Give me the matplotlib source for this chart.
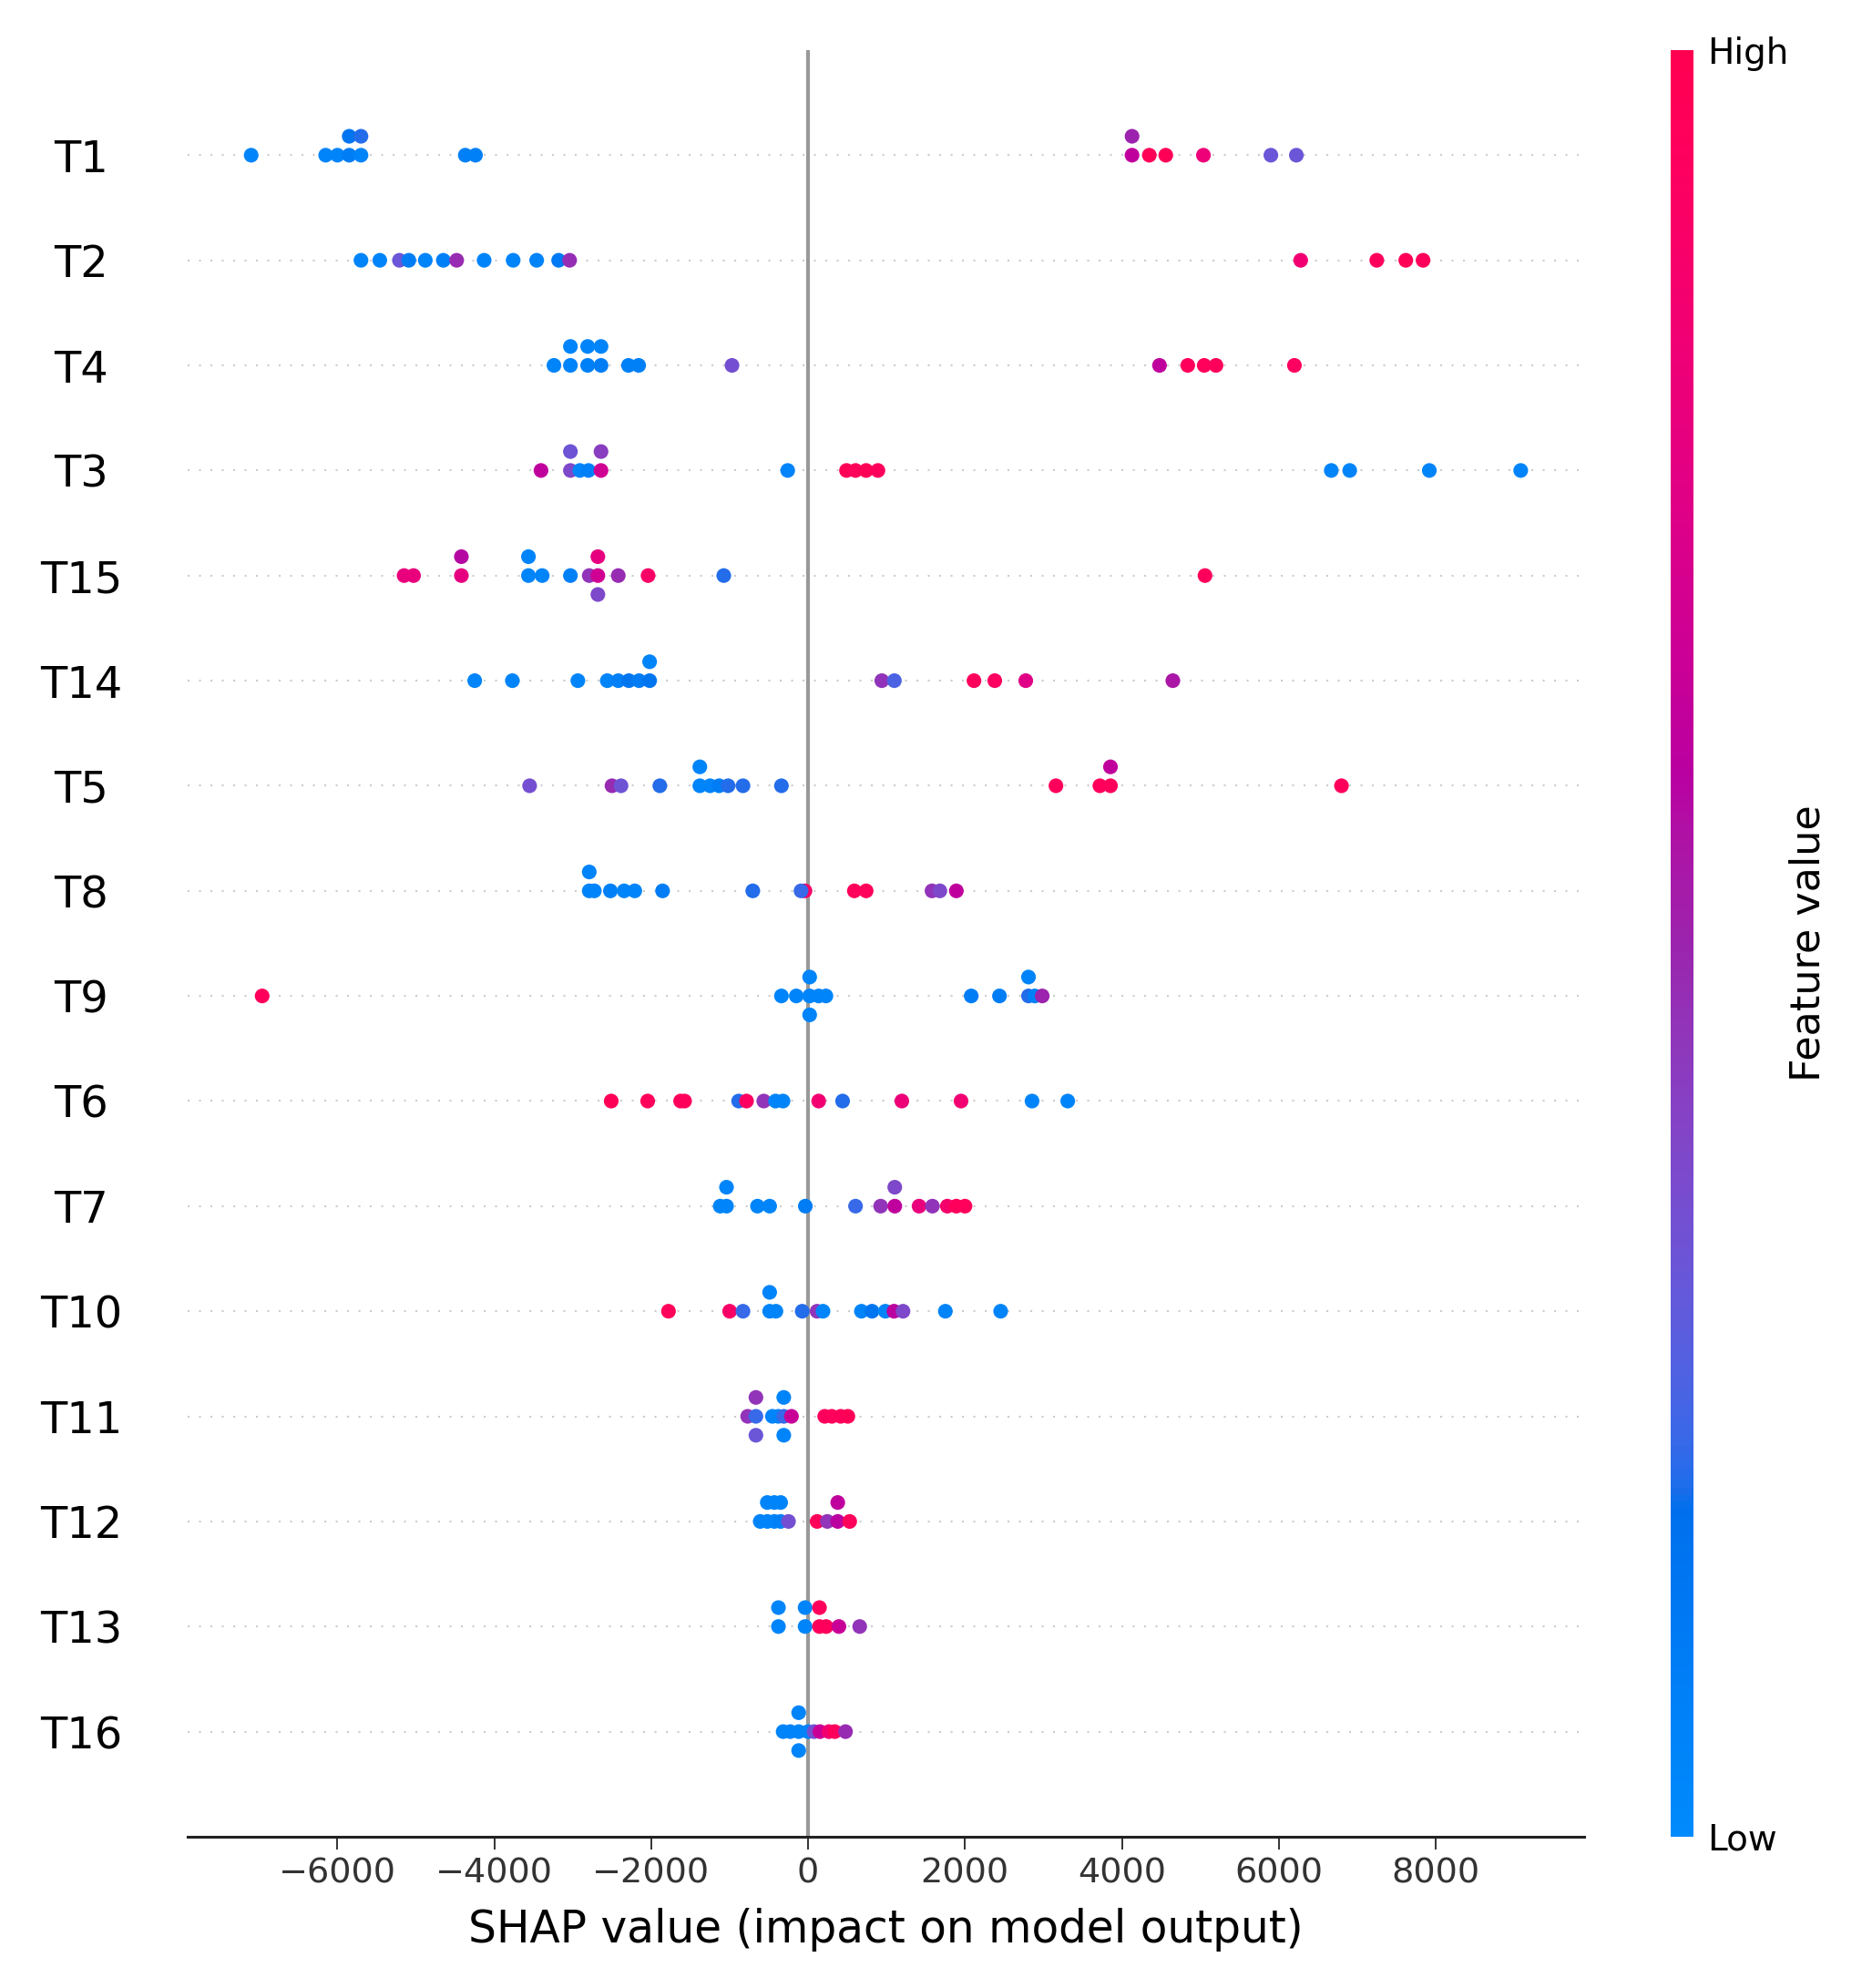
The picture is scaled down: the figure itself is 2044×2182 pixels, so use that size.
import numpy as np
import matplotlib
matplotlib.use("Agg")
import matplotlib.pyplot as plt
from matplotlib.colors import LinearSegmentedColormap
from matplotlib.cm import ScalarMappable

# feature order, top to bottom
features = ["T1", "T2", "T4", "T3", "T15", "T14", "T5", "T8",
            "T9", "T6", "T7", "T10", "T11", "T12", "T13", "T16"]

# SHAP values, with the (0..1) feature value used for colour
t1_shap = [-7100, -6150, -6000, -5850, -5850, -5700, -5700, -4370, -4240,
           4130, 4130, 4350, 4560, 5040, 5900, 6225]
t1_val = [0.05, 0.05, 0.05, 0.1, 0.15, 0.05, 0.2, 0.08, 0.08,
          0.62, 0.5, 0.97, 0.97, 0.82, 0.32, 0.32]

t2_shap = [-5700, -5460, -5210, -5090, -4880, -4650, -4480, -4130, -3760, -3460,
           -3180, -3040, 6280, 7250, 7620, 7840]
t2_val = [0.05, 0.05, 0.32, 0.1, 0.05, 0.08, 0.48, 0.05, 0.05, 0.05,
          0.12, 0.47, 0.85, 0.95, 0.97, 0.96]

t4_shap = [-3240, -3030, -3030, -2810, -2810, -2640, -2640, -2290, -2160, -970,
           4480, 4840, 5050, 5200, 6200]
t4_val = [0.05, 0.05, 0.05, 0.08, 0.05, 0.1, 0.05, 0.08, 0.08, 0.35,
          0.62, 0.95, 0.96, 0.95, 0.93]

t3_shap = [-3405, -3030, -3030, -2910, -2800, -2640, -2640, -260, 490, 605,
           740, 890, 6670, 6905, 7920, 9085]
t3_val = [0.62, 0.38, 0.33, 0.05, 0.08, 0.68, 0.42, 0.05, 0.97, 0.96,
          0.97, 0.95, 0.05, 0.05, 0.05, 0.05]

t15_shap = [-5150, -5030, -4420, -4420, -3565, -3565, -3390, -3030, -2790,
            -2680, -2680, -2680, -2420, -2040, -1075, 5060]
t15_val = [0.8, 0.8, 0.78, 0.58, 0.05, 0.05, 0.05, 0.08, 0.45,
           0.68, 0.78, 0.38, 0.48, 0.9, 0.2, 0.95]

t14_shap = [-4250, -3770, -2935, -2560, -2420, -2285, -2155, -2020, -2020,
            940, 1100, 2115, 2380, 2775, 4650]
t14_val = [0.05, 0.05, 0.05, 0.05, 0.08, 0.15, 0.1, 0.15, 0.05,
           0.45, 0.25, 0.95, 0.93, 0.75, 0.55]

t5_shap = [-3550, -2500, -2385, -1890, -1380, -1380, -1250, -1135, -1020, -830,
           -340, 3160, 3720, 3855, 3855, 6800]
t5_val = [0.35, 0.48, 0.33, 0.2, 0.05, 0.05, 0.05, 0.1, 0.2, 0.2,
          0.2, 0.95, 0.95, 0.95, 0.62, 0.95]

t8_shap = [-2790, -2790, -2725, -2520, -2345, -2210, -1855, -705, -40, -90,
           590, 740, 1580, 1680, 1890]
t8_val = [0.05, 0.05, 0.05, 0.08, 0.05, 0.05, 0.1, 0.2, 0.9, 0.22,
          0.96, 0.96, 0.45, 0.38, 0.62]

t9_shap = [-6960, -340, -150, 20, 20, 20, 135, 227, 2080, 2440, 2810, 2810,
           2890, 2985]
t9_val = [0.95, 0.05, 0.05, 0.05, 0.05, 0.05, 0.05, 0.05, 0.1, 0.1, 0.2, 0.05,
          0.08, 0.5]

t6_shap = [-2510, -2045, -1625, -1575, -885, -785, -565, -415, -320, 135,
           440, 1195, 1950, 2855, 3310]
t6_val = [0.97, 0.96, 0.96, 0.95, 0.2, 0.93, 0.45, 0.05, 0.05, 0.85,
          0.2, 0.82, 0.85, 0.05, 0.05]

t7_shap = [-1120, -1040, -1040, -645, -490, -35, 605, 925, 1105, 1105,
           1415, 1585, 1775, 1890, 2000]
t7_val = [0.05, 0.05, 0.05, 0.05, 0.05, 0.1, 0.22, 0.45, 0.62, 0.38,
          0.8, 0.45, 0.88, 0.95, 0.96]

t10_shap = [-1780, -1000, -830, -490, -490, -410, -75, 115, 190, 680,
            815, 985, 1095, 1210, 1750, 2455]
t10_val = [0.96, 0.9, 0.22, 0.05, 0.05, 0.05, 0.2, 0.45, 0.05, 0.05,
           0.15, 0.05, 0.6, 0.38, 0.05, 0.05]

t11_shap = [-770, -665, -665, -665, -455, -380, -310, -310, -310, -212,
            212, 303, 416, 507]
t11_val = [0.45, 0.22, 0.45, 0.32, 0.05, 0.05, 0.22, 0.05, 0.05, 0.65,
           0.95, 0.96, 0.95, 0.97]

t12_shap = [-610, -520, -520, -430, -430, -350, -350, -250, 115, 245, 378, 378, 530]
t12_val = [0.05, 0.05, 0.05, 0.05, 0.05, 0.08, 0.05, 0.35, 0.96, 0.45, 0.6, 0.62, 0.96]

t13_shap = [-378, -378, -38, -38, 145, 145, 230, 393, 658]
t13_val = [0.05, 0.05, 0.05, 0.05, 0.96, 0.95, 0.95, 0.65, 0.45]

t16_shap = [-318, -227, -120, -120, -120, 0, 76, 151, 265, 340, 477]
t16_val = [0.05, 0.05, 0.05, 0.05, 0.05, 0.05, 0.35, 0.65, 0.85, 0.95, 0.48]

shap_rows = [t1_shap, t2_shap, t4_shap, t3_shap, t15_shap, t14_shap, t5_shap, t8_shap,
             t9_shap, t6_shap, t7_shap, t10_shap, t11_shap, t12_shap, t13_shap, t16_shap]
val_rows = [t1_val, t2_val, t4_val, t3_val, t15_val, t14_val, t5_val, t8_val,
            t9_val, t6_val, t7_val, t10_val, t11_val, t12_val, t13_val, t16_val]


# shap's red_blue colormap (interpolated in LCh space)
def lch2rgb(l, c, h):
    a = c * np.cos(h)
    b = c * np.sin(h)
    fy = (l + 16) / 116
    fx = a / 500 + fy
    fz = fy - b / 200
    xyz = np.array([f ** 3 if f ** 3 > 0.008856 else (f - 16 / 116) / 7.787 for f in (fx, fy, fz)])
    xyz = xyz * np.array([0.95047, 1.0, 1.08883])
    m = np.array([[3.24048134, -1.53715152, -0.49853633],
                  [-0.96925495, 1.87599, 0.04155593],
                  [0.05564664, -0.20404134, 1.05731107]])
    rgb = m @ xyz
    rgb = np.where(rgb > 0.0031308, 1.055 * np.abs(rgb) ** (1 / 2.4) - 0.055, 12.92 * rgb)
    return np.clip(rgb, 0, 1)


blue_lch = [54., 70., 4.6588]
red_lch = [54., 90., 0.35470565 + 2 * np.pi]
nsteps = 100
l_vals = list(np.linspace(blue_lch[0], 40., nsteps // 2)) + list(np.linspace(40., red_lch[0], nsteps // 2))
c_vals = np.linspace(blue_lch[1], red_lch[1], nsteps)
h_vals = np.linspace(blue_lch[2], red_lch[2], nsteps)
cols = [lch2rgb(l, c, h) for l, c, h in zip(l_vals, c_vals, h_vals)]
red_blue = LinearSegmentedColormap.from_list("red_blue", list(zip(np.linspace(0, 1, nsteps), cols)))


def swarm_offsets(vals, row_height=0.4, nbins=100):
    # same binning/stacking as shap's beeswarm
    vals = np.asarray(vals, dtype=float)
    quant = np.round(nbins * (vals - vals.min()) / (vals.max() - vals.min() + 1e-8))
    inds = np.argsort(quant, kind="stable")
    layer = 0
    last_bin = -1
    ys = np.zeros(len(vals))
    for ind in inds:
        if quant[ind] != last_bin:
            layer = 0
        ys[ind] = np.ceil(layer / 2) * ((layer % 2) * 2 - 1)
        layer += 1
        last_bin = quant[ind]
    ys *= 0.9 * (row_height / np.max(ys + 1))
    return ys


fig = plt.figure(figsize=(20.44, 21.82), dpi=100)
ax = fig.add_axes([0.1008, 0.0761, 0.75, 0.8987])

n = len(features)
for i, (sv, fv) in enumerate(zip(shap_rows, val_rows)):
    pos = n - 1 - i
    ax.axhline(y=pos, color="#cccccc", lw=1.5, dashes=(1, 5), zorder=-1)
    ys = swarm_offsets(sv)
    ax.scatter(sv, pos + ys, c=fv, cmap=red_blue, vmin=0, vmax=1,
               s=135, linewidths=0, zorder=3)

ax.axvline(x=0, color="#999999", lw=3, zorder=-1)

ax.set_ylim(-1, n)
ax.set_yticks(range(n))
ax.set_yticklabels(features[::-1], fontsize=34.5)
ax.tick_params(axis="y", length=0, pad=84)
for lab in ax.get_yticklabels():
    lab.set_horizontalalignment("center")

ax.set_xticks([-6000, -4000, -2000, 0, 2000, 4000, 6000, 8000])
ax.tick_params(axis="x", labelsize=27.5, color="#333333", labelcolor="#333333",
               length=10, width=1.4, pad=6)
ax.set_xlabel("SHAP value (impact on model output)", fontsize=35, labelpad=14)

for side in ["top", "right", "left"]:
    ax.spines[side].set_visible(False)
ax.spines["bottom"].set_linewidth(2.2)
ax.spines["bottom"].set_color("#222222")

# colour bar
cax = fig.add_axes([0.8973, 0.0761, 0.0122, 0.8987])
sm = ScalarMappable(cmap=red_blue)
sm.set_array([0, 1])
cb = fig.colorbar(sm, cax=cax, ticks=[0, 1])
cb.set_ticklabels(["Low", "High"])
cb.ax.tick_params(labelsize=28, length=0, pad=11)
cb.set_label("Feature value", size=32, labelpad=0)
cb.outline.set_visible(False)

fig.savefig("out.png", dpi=100)
